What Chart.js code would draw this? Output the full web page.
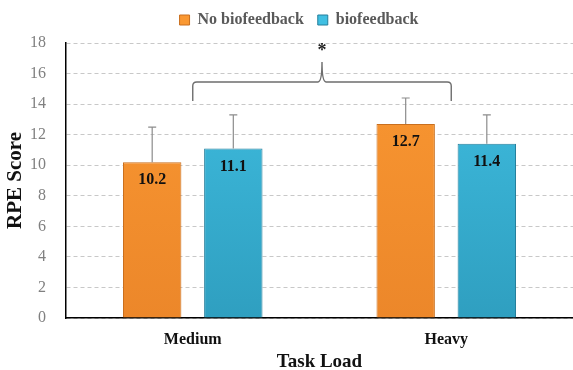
<!DOCTYPE html>
<html>
<head>
<meta charset="utf-8">
<script src="https://cdn.jsdelivr.net/npm/chart.js@4.4.0/dist/chart.umd.min.js"></script>
<style>
  html, body { margin: 0; padding: 0; background: #fff; }
  #wrap { width: 573px; height: 370px; }
</style>
</head>
<body>
<div id="wrap"><canvas id="myChart"></canvas></div>
<script>
const taskLoads = ["Medium", "Heavy"];
const noBiofeedback = [10.2, 12.7];
const biofeedback = [11.1, 11.4];
const noBiofeedbackSd = [2.3, 1.7];
const biofeedbackSd = [2.2, 1.9];
const yTicks = [0, 2, 4, 6, 8, 10, 12, 14, 16, 18];

const serif = "'Liberation Serif', 'Times New Roman', serif";

function barFill(top, bottom) {
  return function (ctx) {
    const area = ctx.chart.chartArea;
    if (!area) return top;
    const g = ctx.chart.ctx.createLinearGradient(0, area.top, 0, area.bottom);
    g.addColorStop(0, top);
    g.addColorStop(1, bottom);
    return g;
  };
}

// a bit more room under the legend, and nudge it like the original
const legendGap = {
  id: "legendGap",
  beforeInit(chart) {
    const fit = chart.legend.fit;
    chart.legend.fit = function () {
      fit.call(this);
      this.height += 3;
    };
  },
  afterLayout(chart) {
    chart.legend.left += 11;
    chart.legend.right += 11;
    chart.legend.top -= 2;
    chart.legend.bottom -= 2;
  }
};

// error bars (upper only), value labels and the significance brace
const extras = {
  id: "extras",
  afterDatasetsDraw(chart) {
    const c = chart.ctx;
    const y = chart.scales.y;
    const x = chart.scales.x;
    const sds = [noBiofeedbackSd, biofeedbackSd];
    c.save();
    chart.data.datasets.forEach((ds, i) => {
      chart.getDatasetMeta(i).data.forEach((bar, j) => {
        const top = y.getPixelForValue(ds.data[j] + sds[i][j]);
        c.strokeStyle = "#8c8c8c";
        c.lineWidth = 1.2;
        c.beginPath();
        c.moveTo(bar.x, bar.y);
        c.lineTo(bar.x, top);
        c.moveTo(bar.x - 4, top);
        c.lineTo(bar.x + 4, top);
        c.stroke();
        c.fillStyle = "#111";
        c.font = "bold 16px " + serif;
        c.textAlign = "center";
        c.textBaseline = "middle";
        c.fillText(ds.data[j].toFixed(1), bar.x, bar.y + 18);
      });
    });
    // brace spanning the two category centres
    const x1 = x.getPixelForValue(0);
    const x2 = x.getPixelForValue(1) + 5;
    const yEnd = y.getPixelForValue(14.2);
    const yLine = y.getPixelForValue(15.45);
    const yTip = y.getPixelForValue(16.75);
    const xm = (x1 + x2) / 2;
    const r = 4;
    c.strokeStyle = "#6e6e6e";
    c.lineWidth = 1.4;
    c.beginPath();
    c.moveTo(x1, yEnd);
    c.lineTo(x1, yLine + r);
    c.quadraticCurveTo(x1, yLine, x1 + r, yLine);
    c.lineTo(xm - 4, yLine);
    c.quadraticCurveTo(xm, yLine, xm, yTip);
    c.quadraticCurveTo(xm, yLine, xm + 4, yLine);
    c.lineTo(x2 - r, yLine);
    c.quadraticCurveTo(x2, yLine, x2, yLine + r);
    c.lineTo(x2, yEnd);
    c.stroke();
    c.fillStyle = "#222";
    c.font = "bold 18px " + serif;
    c.textAlign = "center";
    c.textBaseline = "middle";
    c.fillText("*", xm, y.getPixelForValue(17.6) + 2);
    c.restore();
  }
};

new Chart("myChart", {
  type: "bar",
  data: {
    labels: taskLoads,
    datasets: [
      {
        label: "No biofeedback",
        data: noBiofeedback,
        backgroundColor: barFill("#fa9832", "#ec872a"),
        borderColor: "#c96f1e",
        borderWidth: 1
      },
      {
        label: "biofeedback",
        data: biofeedback,
        backgroundColor: barFill("#40bfe2", "#2f9fc0"),
        borderColor: "#257f9c",
        borderWidth: 1
      }
    ]
  },
  options: {
    responsive: true,
    maintainAspectRatio: false,
    animation: false,
    categoryPercentage: 0.64,
    barPercentage: 0.72,
    layout: { padding: { top: 0, right: 0, left: 3, bottom: 0 } },
    plugins: {
      tooltip: { enabled: false },
      legend: {
        position: "top",
        labels: {
          boxWidth: 10,
          boxHeight: 10,
          padding: 14,
          color: "#595959",
          font: { family: serif, size: 16, weight: "bold" }
        }
      }
    },
    scales: {
      x: {
        afterFit: axis => { axis.height = 52; },
        grid: { display: false },
        border: { color: "#000", width: 1.5 },
        ticks: { color: "#111", font: { family: serif, size: 16, weight: "bold" }, padding: 4 },
        title: {
          display: true,
          text: "Task Load",
          color: "#111",
          font: { family: serif, size: 19, weight: "bold", lineHeight: 0.85 },
          padding: { top: 0, bottom: 0 }
        }
      },
      y: {
        afterFit: axis => { axis.width = 63; },
        min: 0,
        max: 18,
        afterBuildTicks: axis => { axis.ticks = yTicks.map(v => ({ value: v })); },
        grid: { color: "#c8c8c8", drawTicks: false },
        border: { color: "#000", width: 1.5, dash: [4, 3] },
        ticks: { color: "#808080", font: { family: serif, size: 16 }, padding: 20 },
        title: {
          display: true,
          text: "RPE Score",
          color: "#111",
          font: { family: serif, size: 21, weight: "bold" },
          padding: { top: 0, bottom: 4 }
        }
      }
    }
  },
  plugins: [legendGap, extras]
});
</script>
</body>
</html>
